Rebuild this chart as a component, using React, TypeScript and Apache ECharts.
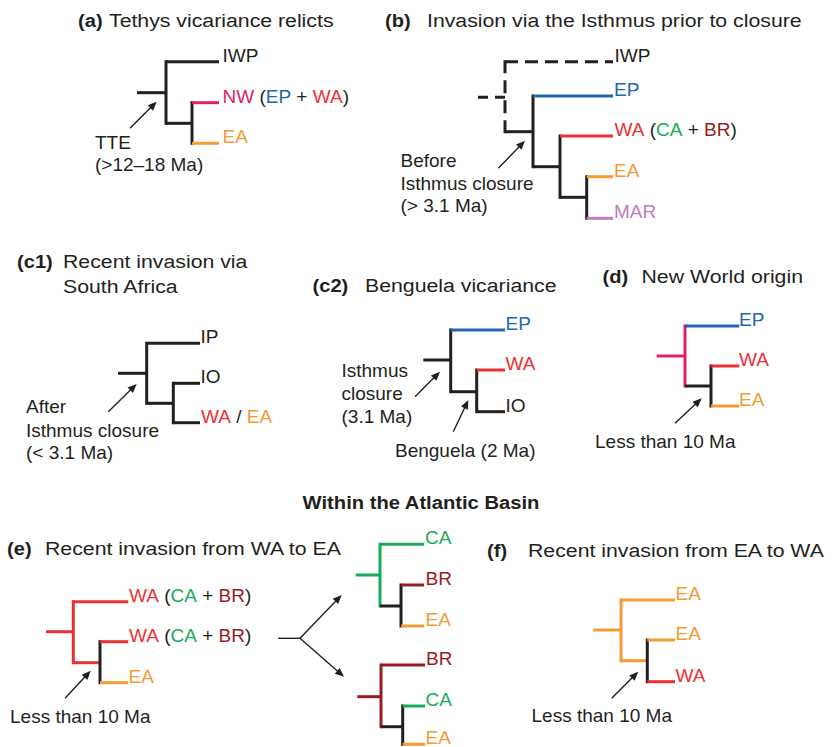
import React, { useEffect, useRef } from 'react';
import * as echarts from 'echarts';

const W = 834;
const H = 747;
const FONT = '"Liberation Sans", Arial, Helvetica, sans-serif';
const INK = '#231f20';
const COLORS: Record<string, string> = {
  k: '#231f20',
  b: '#2266b0',
  r: '#ec3034',
  p: '#e2225f',
  o: '#f59a34',
  g: '#19ab56',
  d: '#981c20',
  m: '#c27cb9',
};
const DASH: Record<number, number[]> = { 1: [13, 7], 2: [10, 7] };

// Tree branches: [x1, y1, x2, y2, colour, dash]
const treeA = [
  [137, 92.7, 166, 92.7, 'k'],
  [166, 61.7, 166, 123.3, 'k'],
  [166, 61.7, 219, 61.7, 'k'],
  [166, 123.3, 192, 123.3, 'k'],
  [192, 102.7, 192, 143.3, 'k'],
  [192, 102.7, 219, 102.7, 'p'],
  [192, 143.3, 219, 143.3, 'o'],
];
const treeB = [
  [478, 97.3, 505, 97.3, 'k', 2],
  [505, 131.7, 505, 61.7, 'k', 1],
  [505, 61.7, 613, 61.7, 'k', 1],
  [505, 131.7, 533, 131.7, 'k'],
  [533, 96, 533, 166.7, 'k'],
  [533, 96, 613, 96, 'b'],
  [533, 166.7, 560, 166.7, 'k'],
  [560, 136, 560, 197.3, 'k'],
  [560, 136, 613, 136, 'r'],
  [560, 197.3, 586.7, 197.3, 'k'],
  [586.7, 176.7, 586.7, 218.3, 'k'],
  [586.7, 176.7, 613, 176.7, 'o'],
  [586.7, 218.3, 613, 218.3, 'm'],
];
const treeC1 = [
  [118, 373.3, 146.7, 373.3, 'k'],
  [146.7, 343.3, 146.7, 403.3, 'k'],
  [146.7, 343.3, 200, 343.3, 'k'],
  [146.7, 403.3, 173.3, 403.3, 'k'],
  [173.3, 383.3, 173.3, 422.7, 'k'],
  [173.3, 383.3, 200, 383.3, 'k'],
  [173.3, 422.7, 200, 422.7, 'k'],
];
const treeC2 = [
  [423.3, 360, 450.7, 360, 'k'],
  [450.7, 330, 450.7, 391.7, 'k'],
  [450.7, 330, 505, 330, 'b'],
  [450.7, 391.7, 476.7, 391.7, 'k'],
  [476.7, 370, 476.7, 411.7, 'k'],
  [476.7, 370, 505, 370, 'r'],
  [476.7, 411.7, 505, 411.7, 'k'],
];
const treeD = [
  [656.7, 356, 685, 356, 'p'],
  [685, 326, 685, 386, 'p'],
  [685, 326, 739.3, 326, 'b'],
  [685, 386, 711, 386, 'k'],
  [711, 366, 711, 406, 'k'],
  [711, 366, 739.3, 366, 'r'],
  [711, 406, 739.3, 406, 'o'],
];
const treeE = [
  [46, 631.7, 73.3, 631.7, 'r'],
  [73.3, 601.7, 73.3, 662.7, 'r'],
  [73.3, 601.7, 128.3, 601.7, 'r'],
  [73.3, 662.7, 100, 662.7, 'r'],
  [100, 641.7, 100, 682.7, 'k'],
  [100, 641.7, 128.3, 641.7, 'r'],
  [100, 682.7, 128.3, 682.7, 'o'],
];
const treeE1 = [
  [355.7, 575, 380, 575, 'g'],
  [380, 544.3, 380, 606, 'g'],
  [380, 544.3, 424, 544.3, 'g'],
  [380, 606, 401, 606, 'k'],
  [401, 585, 401, 626, 'k'],
  [401, 585, 424, 585, 'd'],
  [401, 626, 424, 626, 'o'],
];
const treeE2 = [
  [357.3, 696.7, 381, 696.7, 'd'],
  [381, 665, 381, 726.7, 'd'],
  [381, 665, 425, 665, 'd'],
  [381, 726.7, 402.7, 726.7, 'k'],
  [402.7, 706, 402.7, 744.3, 'k'],
  [402.7, 706, 425, 706, 'g'],
  [402.7, 744.3, 425, 744.3, 'o'],
];
const treeF = [
  [593.3, 630, 621, 630, 'o'],
  [621, 600, 621, 660.7, 'o'],
  [621, 600, 675, 600, 'o'],
  [621, 660.7, 647.3, 660.7, 'o'],
  [647.3, 640, 647.3, 681.7, 'k'],
  [647.3, 640, 675, 640, 'o'],
  [647.3, 681.7, 675, 681.7, 'r'],
];
const segments: any[] = [
  ...treeA, ...treeB, ...treeC1, ...treeC2, ...treeD, ...treeE, ...treeE1, ...treeE2, ...treeF,
];

// Tip labels: [x, branch y, rich text]
const WA_CA_BR = '{r|WA} ({g|CA} + {d|BR})';
const tipLabels: any[] = [
  [222.5, 61.7, 'IWP'], [222.5, 102.7, '{p|NW} ({b|EP} + {r|WA})'], [222.5, 143.3, '{o|EA}'],
  [614.5, 61.7, 'IWP'], [614, 96, '{b|EP}'], [614.5, 136, WA_CA_BR], [614, 176.7, '{o|EA}'], [614, 218.3, '{m|MAR}'],
  [200.5, 343.3, 'IP'], [200.5, 383.3, 'IO'], [201, 422.7, '{r|WA} / {o|EA}'],
  [505.5, 330, '{b|EP}'], [505.5, 370, '{r|WA}'], [505.5, 411.7, 'IO'],
  [739, 326, '{b|EP}'], [739, 366, '{r|WA}'], [739, 406, '{o|EA}'],
  [129, 601.7, WA_CA_BR], [129, 641.7, WA_CA_BR], [128.5, 682.7, '{o|EA}'],
  [425, 544.3, '{g|CA}'], [425.5, 585, '{d|BR}'], [425.5, 626, '{o|EA}'],
  [426, 665, '{d|BR}'], [425.5, 706, '{g|CA}'], [425.5, 744.3, '{o|EA}'],
  [675.5, 600, '{o|EA}'], [675.5, 640, '{o|EA}'], [675.5, 681.7, '{r|WA}'],
];

// Annotations: [x, y, text]
const notes: any[] = [
  [95, 142.5, 'TTE'], [95, 164.5, '(>12–18 Ma)'],
  [400.5, 160, 'Before'], [400.5, 183.3, 'Isthmus closure'], [400.5, 205.5, '(> 3.1 Ma)'],
  [26, 406.7, 'After'], [26, 430, 'Isthmus closure'], [26, 452, '(< 3.1 Ma)'],
  [341.5, 370, 'Isthmus'], [341.5, 393.3, 'closure'], [341.5, 416.7, '(3.1 Ma)'],
  [395, 450, 'Benguela (2 Ma)'],
  [595, 441.7, 'Less than 10 Ma'],
  [10, 716.7, 'Less than 10 Ma'],
  [531.5, 715, 'Less than 10 Ma'],
];

// Panel titles: [x, y, text, weight]
const titles: any[] = [
  [78, 20, '(a)', 'b'], [109, 20, 'Tethys vicariance relicts', 'n'],
  [385, 20, '(b)', 'b'], [427, 20, 'Invasion via the Isthmus prior to closure', 'n'],
  [17, 261.7, '(c1)', 'b'], [63, 261.7, 'Recent invasion via', 'n'], [63, 286.7, 'South Africa', 'n'],
  [312.5, 285.5, '(c2)', 'b'], [365, 285.5, 'Benguela vicariance', 'n'],
  [602.5, 276.7, '(d)', 'b'], [641.5, 276.7, 'New World origin', 'n'],
  [7, 548, '(e)', 'b'], [45, 548, 'Recent invasion from WA to EA', 'n'],
  [487, 550, '(f)', 'b'], [528, 550, 'Recent invasion from EA to WA', 'n'],
  [421, 502, 'Within the Atlantic Basin', 'c'],
];

// Arrows: [x1, y1, x2, y2, head]
const arrows: any[] = [
  [130, 128.3, 156.7, 101.7, 1],
  [498.3, 168.3, 525, 140.7, 1],
  [108.3, 411.7, 136.7, 384, 1],
  [415, 396.7, 440, 371.7, 1],
  [453.3, 431.7, 468.3, 400, 1],
  [675, 423.3, 701.7, 398.3, 1],
  [65, 698.3, 90.7, 670.7, 1],
  [611.7, 698.3, 638.3, 671.7, 1],
  [278.3, 638.3, 300.5, 638.3, 0],
  [300, 638.3, 341.7, 595, 1],
  [300, 638.3, 344, 676.7, 1],
];

const LW = 3;
const ARROW_LW = 1.4;
const HEAD_L = 9;
const HEAD_W = 3.8;
const FS = 19;

const RICH: Record<string, any> = {};
Object.keys(COLORS).forEach((k) => {
  RICH[k] = { fill: COLORS[k], fontSize: FS, fontFamily: FONT };
});

export default function App() {
  const ref = useRef<HTMLDivElement>(null);
  useEffect(() => {
    const chart = echarts.init(ref.current as HTMLDivElement, null, { renderer: 'svg' });

    const segSeries = {
      type: 'custom',
      coordinateSystem: 'cartesian2d',
      silent: true,
      clip: false,
      encode: { x: [0, 2], y: [1, 3] },
      data: segments.map((s) => [s[0], s[1], s[2], s[3]]),
      renderItem: (params: any, api: any) => {
        const s = segments[params.dataIndex];
        const a = api.coord([api.value(0), api.value(1)]);
        const b = api.coord([api.value(2), api.value(3)]);
        let x1 = a[0], y1 = a[1], x2 = b[0], y2 = b[1];
        if (Math.abs(x1 - x2) < 0.01) {
          const d = Math.sign(y2 - y1);
          y1 -= (d * LW) / 2;
          y2 += (d * LW) / 2;
        }
        const style: any = { stroke: COLORS[s[4]], lineWidth: LW, lineCap: 'butt', fill: null };
        if (s[5]) style.lineDash = DASH[s[5]];
        return { type: 'line', shape: { x1, y1, x2, y2 }, style };
      },
    };

    const arrowSeries = {
      type: 'custom',
      coordinateSystem: 'cartesian2d',
      silent: true,
      clip: false,
      encode: { x: [0, 2], y: [1, 3] },
      data: arrows.map((s) => [s[0], s[1], s[2], s[3]]),
      renderItem: (params: any, api: any) => {
        const s = arrows[params.dataIndex];
        const a = api.coord([api.value(0), api.value(1)]);
        const b = api.coord([api.value(2), api.value(3)]);
        const dx = b[0] - a[0];
        const dy = b[1] - a[1];
        const len = Math.hypot(dx, dy);
        const ux = dx / len, uy = dy / len;
        const children: any[] = [];
        if (s[4]) {
          const bx = b[0] - ux * HEAD_L, by = b[1] - uy * HEAD_L;
          const nx = -uy, ny = ux;
          children.push({
            type: 'line',
            shape: { x1: a[0], y1: a[1], x2: bx + ux, y2: by + uy },
            style: { stroke: INK, lineWidth: ARROW_LW, fill: null },
          });
          children.push({
            type: 'polygon',
            shape: { points: [[b[0], b[1]], [bx + nx * HEAD_W, by + ny * HEAD_W], [bx - nx * HEAD_W, by - ny * HEAD_W]] },
            style: { fill: INK, stroke: null },
          });
        } else {
          children.push({
            type: 'line',
            shape: { x1: a[0], y1: a[1], x2: b[0], y2: b[1] },
            style: { stroke: INK, lineWidth: ARROW_LW, fill: null },
          });
        }
        return { type: 'group', children };
      },
    };

    const textEl = (x: number, y: number, text: string, opts: any = {}) => ({
      type: 'text',
      x,
      y,
      scaleX: opts.scaleX || 1,
      style: {
        text,
        fill: INK,
        fontSize: FS,
        fontFamily: FONT,
        fontWeight: opts.bold ? 'bold' : 'normal',
        align: opts.align || 'left',
        textAlign: opts.align || 'left',
        verticalAlign: 'middle',
        textVerticalAlign: 'middle',
        rich: opts.rich,
      },
    });

    const tipSeries = {
      type: 'custom',
      coordinateSystem: 'cartesian2d',
      silent: true,
      clip: false,
      data: tipLabels.map((l) => [l[0], l[1]]),
      renderItem: (params: any, api: any) => {
        const l = tipLabels[params.dataIndex];
        const p = api.coord([api.value(0), api.value(1)]);
        return textEl(p[0], p[1] - 6.5, l[2], { rich: RICH });
      },
    };

    const noteSeries = {
      type: 'custom',
      coordinateSystem: 'cartesian2d',
      silent: true,
      clip: false,
      data: notes.map((l) => [l[0], l[1]]),
      renderItem: (params: any, api: any) => {
        const l = notes[params.dataIndex];
        const p = api.coord([api.value(0), api.value(1)]);
        return textEl(p[0], p[1], l[2]);
      },
    };

    const titleSeries = {
      type: 'custom',
      coordinateSystem: 'cartesian2d',
      silent: true,
      clip: false,
      data: titles.map((l) => [l[0], l[1]]),
      renderItem: (params: any, api: any) => {
        const l = titles[params.dataIndex];
        const p = api.coord([api.value(0), api.value(1)]);
        if (l[3] === 'b') return textEl(p[0], p[1], l[2], { bold: true, scaleX: 1.06 });
        if (l[3] === 'c') return textEl(p[0], p[1], l[2], { bold: true, scaleX: 1.063, align: 'center' });
        return textEl(p[0], p[1], l[2], { scaleX: 1.12 });
      },
    };

    chart.setOption({
      animation: false,
      backgroundColor: '#ffffff',
      grid: { left: 0, right: 0, top: 0, bottom: 0 },
      xAxis: { type: 'value', min: 0, max: W, show: false },
      yAxis: { type: 'value', min: 0, max: H, inverse: true, show: false },
      series: [segSeries, arrowSeries, tipSeries, noteSeries, titleSeries],
    });
    return () => chart.dispose();
  }, []);
  return (
    <div
      ref={ref}
      style={{ position: 'fixed', left: 0, top: 0, width: W, height: H, background: '#fff' }}
    />
  );
}
